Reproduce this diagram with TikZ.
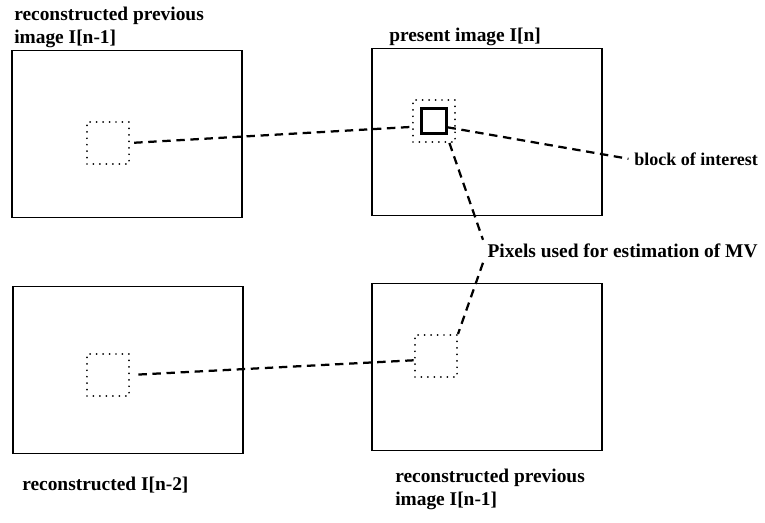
\documentclass[tikz,border=0pt]{standalone}
\usepackage{fontspec}
\setmainfont{Liberation Serif}
\usetikzlibrary{positioning}

\begin{document}
\begin{tikzpicture}[
  x=0.025cm, y=-0.025cm,
  frame/.style={rectangle, draw, line width=1pt, minimum width=5.75cm, minimum height=4.18cm},
  window/.style={rectangle, draw, line width=1.4pt, line cap=round, dash pattern=on 0pt off 4.6pt, minimum size=1.05cm},
  block/.style={rectangle, draw, line width=1.6pt, minimum size=0.62cm},
  lbl/.style={inner sep=0pt, align=left, font=\fontsize{13.8}{16.5}\selectfont\bfseries},
  link/.style={line width=1.6pt, dash pattern=on 6pt off 4pt}
]
\useasboundingbox (0,0) rectangle (765,523);

% Image frames
\node[frame] (prev) at (127,134) {};
\node[frame] (pres) at (487,132) {};
\node[frame] (prevtwo) at (128,370) {};
\node[frame] (prevb) at (487,367) {};

% Search windows and the block
\node[window] (prevwin) at (108,143) {};
\node[window] (preswin) at (434,121) {};
\node[block] (blk) at (434,121) {};
\node[window] (prevtwowin) at (108,375) {};
\node[window] (prevbwin) at (436,356) {};

% Labels
\node[lbl, anchor=north west] (tprev) at (14,7) {reconstructed previous\\image I[n-1]};
\node[lbl, anchor=base west] (tpres) at (389,42) {present image I[n]};
\node[lbl, anchor=base west, font=\fontsize{12.8}{15}\selectfont\bfseries] (interest) at (634,166) {block of interest};
\node[lbl, anchor=base west, inner sep=3pt] (mv) at (483,258) {Pixels used for estimation of MV};
\node[lbl, anchor=base west] (tprevtwo) at (22,491) {reconstructed I[n-2]};
\node[lbl, anchor=north west] (tprevb) at (395,469) {reconstructed previous\\image I[n-1]};

% Connectors
\draw[link, shorten <=3pt] (prevwin.east) -- (preswin.195);
\draw[link, shorten >=4pt] (blk.-25) -- (interest.west);
\draw[link] (preswin.-55) -- (mv.north west);
\draw[link] (mv.south west) -- (prevbwin.north east);
\draw[link, shorten <=6pt] (prevtwowin.east) -- (prevbwin.191);

\end{tikzpicture}
\end{document}
